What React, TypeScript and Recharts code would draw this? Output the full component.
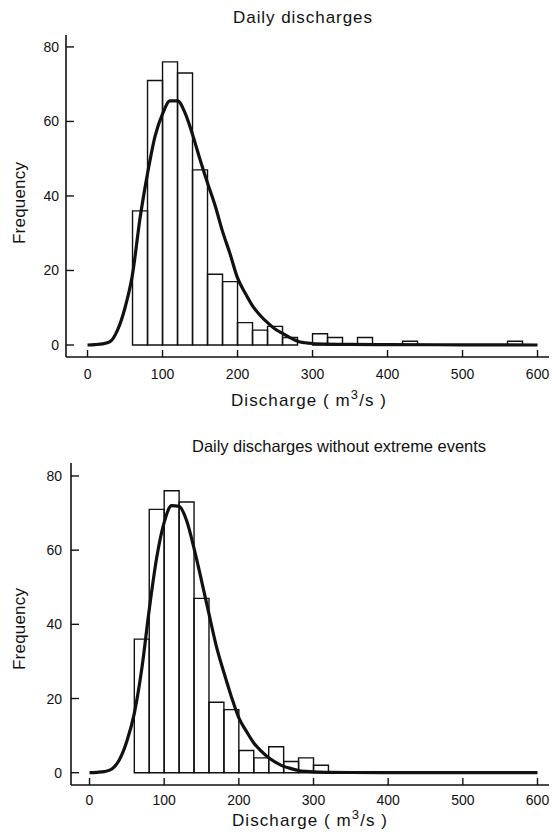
import React from 'react';
import { ComposedChart, Line, XAxis, YAxis, ReferenceArea } from 'recharts';

// axis ticks (same for both panels)
const xTicks = [0, 100, 200, 300, 400, 500, 600];
const yTicks = [0, 20, 40, 60, 80];
const binWidth = 20;

// panel 1: daily discharges (only non-empty bins listed)
const allBinStarts = [60, 80, 100, 120, 140, 160, 180, 200, 220, 240, 260, 300, 320, 360, 420, 560];
const allCounts = [36, 71, 76, 73, 47, 19, 17, 6, 4, 5, 2, 3, 2, 2, 1, 1];
const allCurveX = [0, 10, 20, 30, 40, 50, 60, 70, 80, 90, 100, 110, 120, 130, 140, 150, 160, 170, 180, 190, 200, 210, 220, 230, 240, 250, 260, 270, 280, 290, 300, 320, 350, 400, 500, 600];
const allCurveY = [0, 0.1, 0.3, 0.9, 4, 10, 19, 34, 46, 56, 62, 65.5, 65.5, 62.3, 56.5, 49.8, 43.5, 37.5, 30.5, 24.5, 18, 14, 10.5, 8, 6, 4.3, 3.1, 2, 1, 0.6, 0.4, 0.25, 0.15, 0.1, 0.05, 0];

// panel 2: daily discharges without extreme events
const trimBinStarts = [60, 80, 100, 120, 140, 160, 180, 200, 220, 240, 260, 280, 300];
const trimCounts = [36, 71, 76, 73, 47, 19, 17, 6, 4, 7, 3, 4, 2];
const trimCurveX = [0, 10, 20, 30, 40, 50, 60, 70, 80, 90, 100, 110, 120, 130, 140, 150, 160, 170, 180, 190, 200, 210, 220, 230, 240, 250, 260, 270, 280, 290, 300, 320, 350, 400, 500, 600];
const trimCurveY = [0, 0.1, 0.3, 1, 3.5, 8.5, 16, 28, 44, 58, 67.5, 72, 71.8, 68, 60.5, 51.8, 42.8, 34, 27, 20.5, 14.8, 11.2, 8, 5.8, 4, 2.7, 1.7, 1.1, 0.6, 0.35, 0.2, 0.1, 0.05, 0.02, 0, 0];

const FONT = '"Liberation Sans", Arial, sans-serif';
const INK = '#111';

const XTick = ({ x, y, payload, gap }: any) => (
  <g>
    <line x1={x} x2={x} y1={y - gap} y2={y - gap - 7} stroke={INK} strokeWidth={1.4} />
    <text x={x} y={y} dy="0.71em" textAnchor="middle" fontSize={14} fontFamily={FONT} fill={INK}>
      {payload.value}
    </text>
  </g>
);

const YTick = ({ x, y, payload, gap }: any) => (
  <g>
    <line x1={x + gap} x2={x + gap + 8} y1={y} y2={y} stroke={INK} strokeWidth={1.4} />
    <text x={x} y={y} dy={5} textAnchor="end" fontSize={14} fontFamily={FONT} fill={INK}>
      {payload.value}
    </text>
  </g>
);

interface PanelProps {
  binStarts: number[];
  counts: number[];
  curveX: number[];
  curveY: number[];
  height: number;
  top: number;
  yAxisWidth: number;
  xAxisHeight: number;
  xDomain: [number, number];
  yDomain: [number, number];
  xGap: number;
  yGap: number;
}

function Panel(p: PanelProps) {
  const data = p.curveX.map((x, i) => ({ x, y: p.curveY[i] }));
  return (
    <ComposedChart
      width={552}
      height={p.height}
      data={data}
      margin={{ top: p.top, right: 3, bottom: 0, left: 0 }}
    >
      <XAxis
        dataKey="x"
        type="number"
        domain={p.xDomain}
        ticks={xTicks}
        interval={0}
        allowDataOverflow
        height={p.xAxisHeight}
        tickSize={0}
        tickMargin={p.xGap}
        tickLine={false}
        axisLine={{ stroke: INK, strokeWidth: 1.6 }}
        tick={(props: any) => <XTick {...props} gap={p.xGap} />}
      />
      <YAxis
        type="number"
        domain={p.yDomain}
        ticks={yTicks}
        interval={0}
        allowDataOverflow
        width={p.yAxisWidth}
        tickSize={0}
        tickMargin={p.yGap}
        tickLine={false}
        axisLine={{ stroke: INK, strokeWidth: 1.6 }}
        tick={(props: any) => <YTick {...props} gap={p.yGap} />}
      />
      {p.binStarts.map((b, i) => (
        <ReferenceArea
          key={b}
          x1={b}
          x2={b + binWidth}
          y1={0}
          y2={p.counts[i]}
          stroke={INK}
          strokeWidth={1.4}
          fill="none"
          fillOpacity={0}
          strokeOpacity={1}
        />
      ))}
      <Line
        dataKey="y"
        type="monotone"
        stroke={INK}
        strokeWidth={3.2}
        dot={false}
        activeDot={false}
        isAnimationActive={false}
      />
    </ComposedChart>
  );
}

const txt = { fontFamily: FONT, fill: INK } as const;

export default function App() {
  return (
    <div style={{ position: 'fixed', left: 0, top: 0, width: 552, height: 835, background: '#fff' }}>
      <div style={{ position: 'absolute', left: 0, top: 0 }}>
        <Panel
          binStarts={allBinStarts}
          counts={allCounts}
          curveX={allCurveX}
          curveY={allCurveY}
          height={420}
          top={35}
          yAxisWidth={66}
          xAxisHeight={63}
          xDomain={[-28.7, 615.3]}
          yDomain={[-3.22, 83.2]}
          xGap={12}
          yGap={7}
        />
      </div>
      <div style={{ position: 'absolute', left: 0, top: 420 }}>
        <Panel
          binStarts={trimBinStarts}
          counts={trimCounts}
          curveX={trimCurveX}
          curveY={trimCurveY}
          height={415}
          top={43}
          yAxisWidth={71}
          xAxisHeight={50}
          xDomain={[-24.8, 615.4]}
          yDomain={[-3.32, 83.5]}
          xGap={10}
          yGap={9}
        />
      </div>
      {/* titles and axis labels */}
      <svg width={552} height={835} style={{ position: 'absolute', left: 0, top: 0, pointerEvents: 'none' }}>
        <text x={233} y={23} fontSize={17} textLength={139} lengthAdjust="spacing" {...txt}>
          Daily discharges
        </text>
        <text x={192} y={452} fontSize={16.5} textLength={294} lengthAdjust="spacing" {...txt}>
          Daily discharges without extreme events
        </text>
        <text transform="translate(25,203) rotate(-90)" textAnchor="middle" fontSize={17} textLength={82} lengthAdjust="spacing" {...txt}>
          Frequency
        </text>
        <text transform="translate(25,629) rotate(-90)" textAnchor="middle" fontSize={17} textLength={82} lengthAdjust="spacing" {...txt}>
          Frequency
        </text>
        <text x={231} y={406} fontSize={17} textLength={155} lengthAdjust="spacing" {...txt}>
          Discharge ( m<tspan dy={-7} fontSize={13}>3</tspan><tspan dy={7}>/s )</tspan>
        </text>
        <text x={232} y={826} fontSize={17} textLength={155} lengthAdjust="spacing" {...txt}>
          Discharge ( m<tspan dy={-7} fontSize={13}>3</tspan><tspan dy={7}>/s )</tspan>
        </text>
      </svg>
    </div>
  );
}
